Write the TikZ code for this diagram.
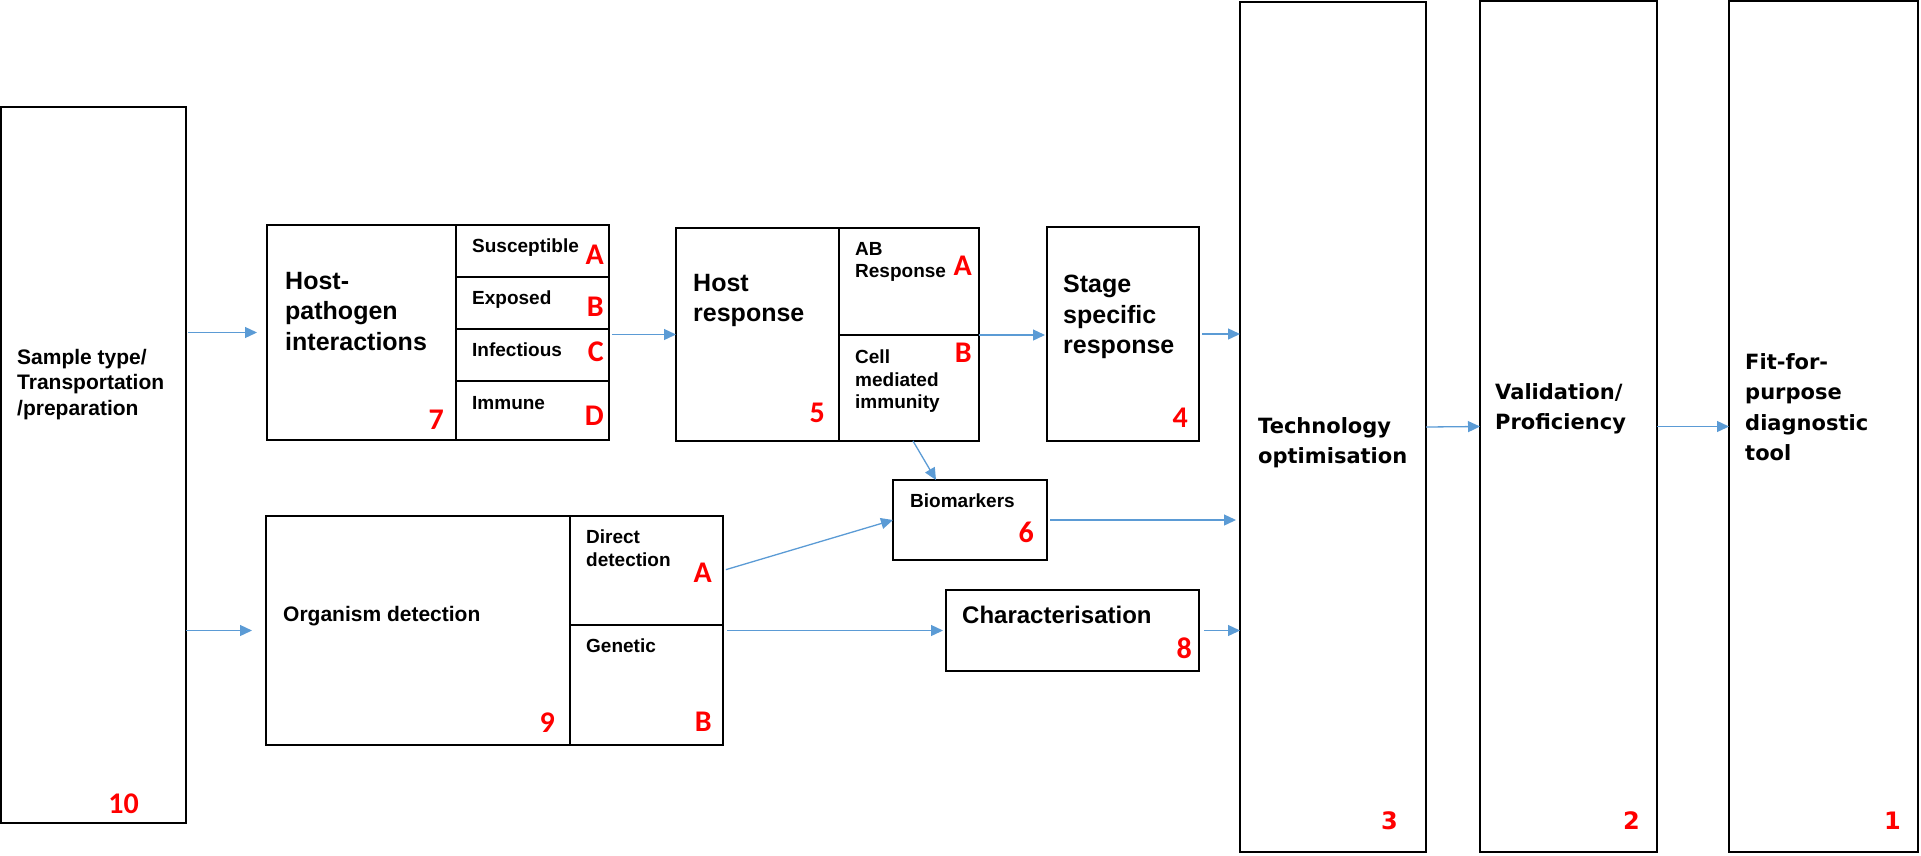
\documentclass[tikz,border=0pt]{standalone}
\usepackage{fontspec}
\setmainfont{Liberation Sans}
\newfontfamily\numfont{Carlito}
\newfontfamily\widefont{DejaVu Sans}
\usepackage{tikz}
\usetikzlibrary{arrows.meta, positioning}
\definecolor{flowblue}{RGB}{91,155,213}

\begin{document}
\begin{tikzpicture}[x=1pt, y=1pt,
	panel/.style={draw, line width=2pt, anchor=north west, inner sep=0pt, outer sep=0pt},
	lbl/.style={anchor=north west, inner sep=0pt, align=left},
	bigtxt/.style={lbl, font=\fontsize{25}{30.5}\selectfont\bfseries},
	midtxt/.style={lbl, font=\fontsize{21}{25.5}\selectfont\bfseries},
	smalltxt/.style={lbl, font=\fontsize{19}{22.5}\selectfont\bfseries},
	widetxt/.style={lbl, font=\widefont\fontsize{21}{30.5}\selectfont\bfseries},
	rednum/.style={anchor=south east, inner sep=0pt, text=red, font=\numfont\fontsize{30}{30}\selectfont\bfseries},
	widenum/.style={rednum, font=\widefont\fontsize{24}{24}\selectfont\bfseries},
	flow/.style={draw=flowblue, line width=1.3pt, -{Triangle[length=12pt, width=11pt]}}]

\useasboundingbox (0,0) rectangle (1921,-855);

% sample column
\node [panel, minimum width=185pt, minimum height=716pt] (sample) at (1,-107) {};
\node [midtxt, below right=242pt and 16pt of sample.north west] (sampletxt) {Sample type/\\Transportation\\/preparation};
\node [rednum, above left=9pt and 47pt of sample.south east] (n10) {10};

% host-pathogen interactions
\node [panel, minimum width=189pt, minimum height=215pt] (hp) at (267,-225) {};
\node [panel, minimum width=153pt, minimum height=52pt] (hpA) at (456,-225) {};
\node [panel, minimum width=153pt, minimum height=52pt] (hpB) at (456,-277) {};
\node [panel, minimum width=153pt, minimum height=52pt] (hpC) at (456,-329) {};
\node [panel, minimum width=153pt, minimum height=59pt] (hpD) at (456,-381) {};
\node [bigtxt, below right=47pt and 18pt of hp.north west] (hptxt) {Host-\\pathogen\\interactions};
\node [rednum, above left=10pt and 12pt of hp.south east] (n7) {7};
\node [smalltxt, below right=14pt and 16pt of hpA.north west] (hpAtxt) {Susceptible};
\node [smalltxt, below right=14pt and 16pt of hpB.north west] (hpBtxt) {Exposed};
\node [smalltxt, below right=14pt and 16pt of hpC.north west] (hpCtxt) {Infectious};
\node [smalltxt, below right=15pt and 16pt of hpD.north west] (hpDtxt) {Immune};
\node [rednum, above left=12pt and 5pt of hpA.south east] (hpAnum) {A};
\node [rednum, above left=12pt and 5pt of hpB.south east] (hpBnum) {B};
\node [rednum, above left=19pt and 5pt of hpC.south east] (hpCnum) {C};
\node [rednum, above left=14pt and 5pt of hpD.south east] (hpDnum) {D};

% host response
\node [panel, minimum width=163pt, minimum height=213pt] (hr) at (676,-228) {};
\node [panel, minimum width=140pt, minimum height=107pt] (hrA) at (839,-228) {};
\node [panel, minimum width=140pt, minimum height=106pt] (hrB) at (839,-335) {};
\node [bigtxt, below right=46pt and 17pt of hr.north west] (hrtxt) {Host\\response};
\node [rednum, above left=18pt and 14pt of hr.south east] (n5) {5};
\node [smalltxt, below right=14pt and 16pt of hrA.north west] (hrAtxt) {AB\\Response};
\node [smalltxt, below right=15pt and 16pt of hrB.north west] (hrBtxt) {Cell\\mediated\\immunity};
\node [rednum, above left=59pt and 7pt of hrA.south east] (hrAnum) {A};
\node [rednum, above left=78pt and 7pt of hrB.south east] (hrBnum) {B};

% stage specific response
\node [panel, minimum width=152pt, minimum height=214pt] (stage) at (1047,-227) {};
\node [bigtxt, below right=48pt and 16pt of stage.north west] (stagetxt) {Stage\\specific\\response};
\node [rednum, above left=13pt and 11pt of stage.south east] (n4) {4};

% biomarkers
\node [panel, minimum width=154pt, minimum height=80pt] (bio) at (893,-480) {};
\node [smalltxt, below right=14pt and 17pt of bio.north west] (biotxt) {Biomarkers};
\node [rednum, above left=17pt and 13pt of bio.south east] (n6) {6};

% organism detection
\node [panel, minimum width=304pt, minimum height=229pt] (org) at (266,-516) {};
\node [panel, minimum width=153pt, minimum height=109pt] (orgA) at (570,-516) {};
\node [panel, minimum width=153pt, minimum height=120pt] (orgB) at (570,-625) {};
\node [midtxt, below right=90pt and 17pt of org.north west] (orgtxt) {Organism detection};
\node [rednum, above left=12pt and 15pt of org.south east] (n9) {9};
\node [smalltxt, below right=14pt and 16pt of orgA.north west] (orgAtxt) {Direct\\detection};
\node [smalltxt, below right=14pt and 16pt of orgB.north west] (orgBtxt) {Genetic};
\node [rednum, above left=42pt and 11pt of orgA.south east] (orgAnum) {A};
\node [rednum, above left=13pt and 11pt of orgB.south east] (orgBnum) {B};

% characterisation
\node [panel, minimum width=253pt, minimum height=81pt] (char) at (946,-590) {};
\node [lbl, font=\fontsize{24}{28}\selectfont\bfseries, below right=16pt and 16pt of char.north west] (chartxt) {Characterisation};
\node [rednum, above left=12pt and 7pt of char.south east] (n8) {8};

% right columns
\node [panel, minimum width=186pt, minimum height=850pt] (tech) at (1240,-2) {};
\node [widetxt, below right=415pt and 18pt of tech.north west] (techtxt) {Technology\\optimisation};
\node [widenum, above left=22pt and 28pt of tech.south east] (n3) {3};

\node [panel, minimum width=177pt, minimum height=851pt] (val) at (1480,-1) {};
\node [widetxt, below right=382pt and 15pt of val.north west] (valtxt) {Validation/\\Proficiency};
\node [widenum, above left=22pt and 17pt of val.south east] (n2) {2};

\node [panel, minimum width=189pt, minimum height=851pt] (fit) at (1729,-1) {};
\node [widetxt, below right=352pt and 16pt of fit.north west] (fittxt) {Fit-for-\\purpose\\diagnostic\\tool};
\node [widenum, above left=22pt and 17pt of fit.south east] (n1) {1};

% connectors
\draw [flow, shorten <=2pt, shorten >=10pt] (sample.east |- hp.west) -- (hp.west);
\draw [flow, shorten >=14pt] (sample.east |- org.west) -- (org.west);
\draw [flow, shorten <=3pt] (hpC.east |- hr.west) -- (hr.west);
\draw [flow, shorten >=2pt] (hrA.south east) -- (hrA.south east -| stage.west);
\draw [flow, shorten <=3pt] (stage.east) -- (stage.east -| tech.west);
\draw [flow] ([xshift=4pt]hrB.south) -- ([xshift=43pt]bio.north west);
\draw [flow, shorten <=3pt] (orgA.east) -- (bio.west);
\draw [flow, shorten <=3pt, shorten >=4pt] (bio.east) -- (bio.east -| tech.west);
\draw [flow, shorten <=4pt, shorten >=3pt] (char.west -| orgB.east) -- (char.west);
\draw [flow, shorten <=5pt] (char.east) -- (char.east -| tech.west);
\draw [flow] (tech.east) -- (val.west);
\draw [flow] (val.east) -- (fit.west);

\end{tikzpicture}
\end{document}
